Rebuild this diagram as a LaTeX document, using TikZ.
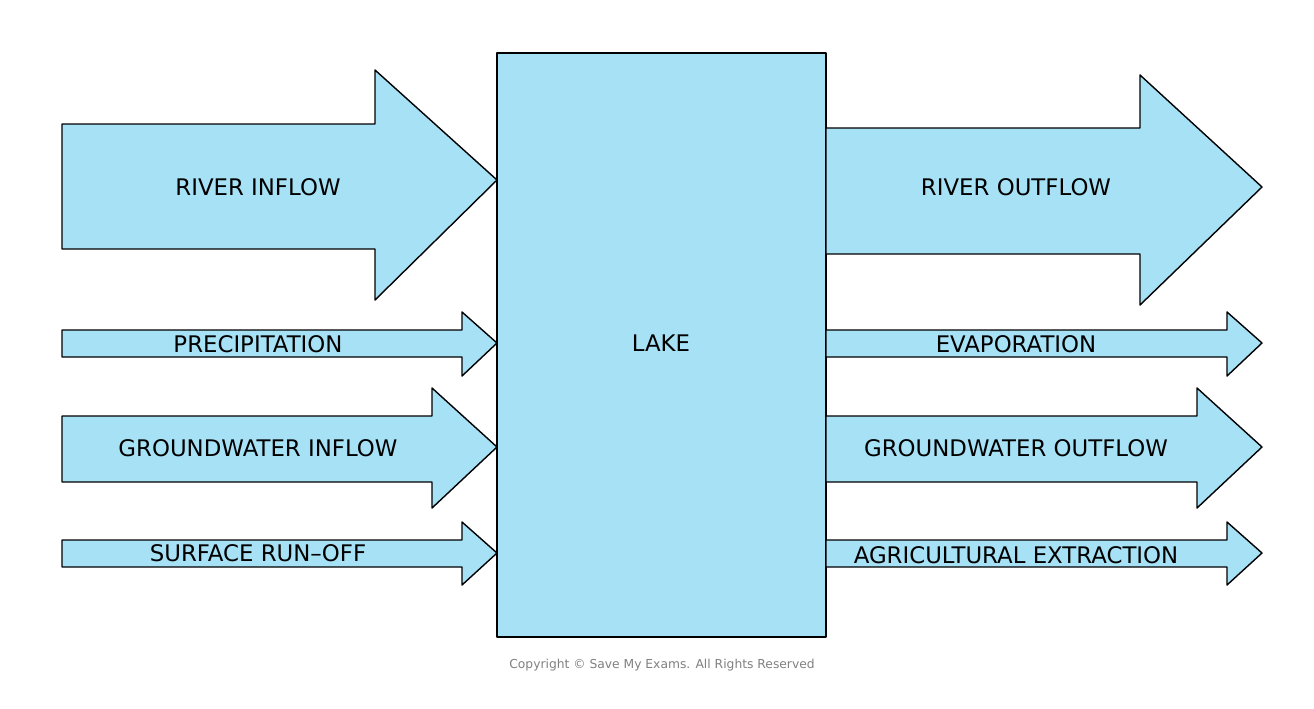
\documentclass[tikz,border=0pt]{standalone}
\usepackage{fontspec}
\setmainfont{DejaVu Sans}
\usetikzlibrary{positioning}
\definecolor{waterblue}{HTML}{A6E1F6}

% arrow: x0, x1 (body end), xt (tip), ytop, ybot, headtop, headbot, ytip
\newcommand{\flowarrow}[8]{%
  \filldraw[flowshape] (#1,#4) -- (#2,#4) -- (#2,#6) -- (#3,#8) -- (#2,#7)
    -- (#2,#5) -- (#1,#5) -- cycle;}

\begin{document}
\begin{tikzpicture}[
    x=0.02cm, y=-0.02cm,
    flowshape/.style = {fill=waterblue, draw=black, line width=0.8pt, line join=round},
    label/.style = {font=\fontsize{13}{15}\selectfont, inner sep=1pt},
  ]
    \useasboundingbox (0,0) rectangle (1314,708);

    % lake
    \filldraw[flowshape] (497,53) rectangle (826,637);
    \node[label] (lake) at (661,343) {LAKE};

    % inputs
    \flowarrow{62}{375}{497}{124}{249}{70}{300}{180}
    \flowarrow{62}{462}{497}{330}{357}{312}{376}{343}
    \flowarrow{62}{432}{497}{416}{482}{388}{508}{447}
    \flowarrow{62}{462}{497}{540}{567}{522}{585}{553}

    % outputs
    \flowarrow{826}{1140}{1262}{128}{254}{75}{305}{187}
    \flowarrow{826}{1227}{1262}{330}{357}{312}{376}{343}
    \flowarrow{826}{1197}{1262}{416}{482}{388}{508}{447}
    \flowarrow{826}{1227}{1262}{540}{567}{522}{585}{553}

    \node[label] (rin)  at (258,187) {RIVER INFLOW};
    \node[label] (prec) at (258,344) {PRECIPITATION};
    \node[label] (gin)  at (258,448) {GROUNDWATER INFLOW};
    \node[label] (sro)  at (258,553) {SURFACE RUN--OFF};

    \node[label] (rout) at (1016,187) {RIVER OUTFLOW};
    \node[label] (evap) at (1016,344) {EVAPORATION};
    \node[label] (gout) at (1016,448) {GROUNDWATER OUTFLOW};
    \node[label] (agri) at (1016,555) {AGRICULTURAL EXTRACTION};

    \node[font=\fontsize{7}{8}\selectfont, text=gray] (copy) at (662,665)
      {Copyright © Save My Exams. All Rights Reserved};
\end{tikzpicture}
\end{document}
